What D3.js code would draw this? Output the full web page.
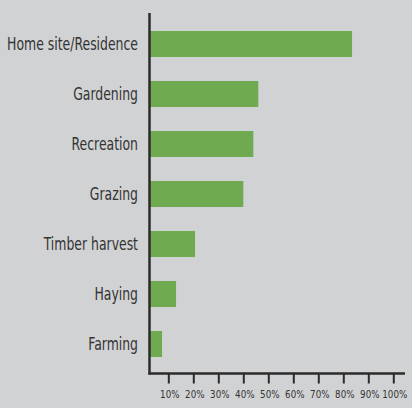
<!DOCTYPE html>
<html><head><meta charset="utf-8">
<script src="https://cdn.jsdelivr.net/npm/d3@7"></script>
<style>
html,body{margin:0;padding:0;background:#d1d2d4;}
svg{display:block;}
</style></head>
<body>
<svg id="c" width="412" height="408"></svg>
<script>
const categories = ["Home site/Residence","Gardening","Recreation","Grazing","Timber harvest","Haying","Farming"];
const values = [83.5, 46, 44, 40, 20.7, 13.1, 7.5];
const tickValues = [10,20,30,40,50,60,70,80,90,100];
const tickLabels = ["10%","20%","30%","40%","50%","60%","70%","80%","90%","100%"];

const FONT = "'DejaVu Sans Condensed', 'DejaVu Sans', sans-serif";
const svg = d3.select("#c");
const x = d3.scaleLinear().domain([0,100]).range([143.3,393.3]);
const y = d3.scaleBand().domain(categories).range([19,369]).paddingInner(0.48).paddingOuter(0.24);
const axisX = 149.5, axisY = 373.5;

svg.append("g").selectAll("rect").data(categories).join("rect")
  .attr("x", axisX)
  .attr("y", d => y(d))
  .attr("width", (d,i) => x(values[i]) - axisX)
  .attr("height", y.bandwidth())
  .attr("fill", "#6faa50");

const labels = svg.append("g").selectAll("text").data(categories).join("text")
  .attr("x", 0).attr("y", 0)
  .attr("dy", "0.35em")
  .attr("text-anchor", "end")
  .attr("font-family", FONT)
  .attr("font-size", 17)
  .attr("fill", "#333")
  .text(d => d);
const wHome = labels.filter((d,i) => i === 0).node().getComputedTextLength();
const sLab = 131 / wHome;
labels.attr("transform", d => `translate(138,${y(d) + y.bandwidth()/2}) scale(${sLab},1)`);

// axis lines
svg.append("line").attr("x1", axisX).attr("x2", axisX).attr("y1", 13).attr("y2", axisY+1)
  .attr("stroke", "#2b2b2b").attr("stroke-width", 2.5);
svg.append("line").attr("x1", axisX-1).attr("x2", 405).attr("y1", axisY).attr("y2", axisY)
  .attr("stroke", "#2b2b2b").attr("stroke-width", 2.5);

const xAxis = d3.axisBottom(x).tickValues(tickValues).tickSize(10).tickPadding(7)
  .tickFormat((d,i) => tickLabels[i]);
const g = svg.append("g").attr("transform", `translate(0,${axisY})`).call(xAxis);
g.select(".domain").remove();
g.selectAll(".tick line").attr("stroke", "#2b2b2b").attr("stroke-width", 2);
const tt = g.selectAll(".tick text").attr("font-family", FONT)
  .attr("font-size", 11).attr("fill", "#333");
const w100 = tt.filter((d,i) => i === 9).node().getComputedTextLength();
const sTick = 25 / w100;
tt.each(function() {
  const t = d3.select(this);
  const yy = +t.attr("y");
  t.attr("y", 0).attr("transform", `translate(1,${yy}) scale(${sTick},1)`);
});
</script>
</body></html>
